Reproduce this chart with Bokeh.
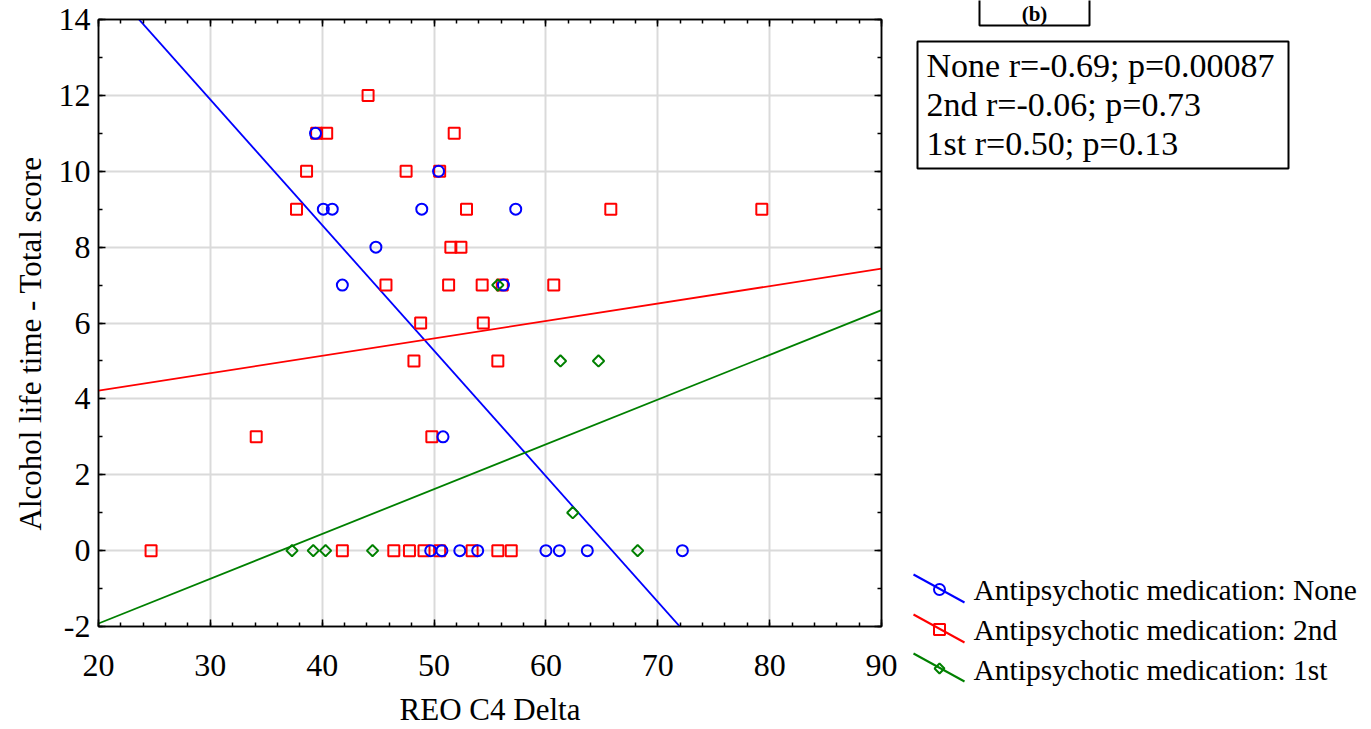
import numpy as np
from bokeh.plotting import figure
from bokeh.models import Range1d, LinearAxis, FixedTicker, Title
from bokeh.layouts import row
from bokeh.embed import file_html
from bokeh.resources import INLINE
from bokeh.core.properties import value

FONT = "Liberation Serif"

# ---------------- data ----------------
none_x = [39.4, 50.4, 40.1, 40.9, 48.9, 57.3, 44.8, 41.8, 56.2, 50.8,
          49.7, 50.7, 52.3, 53.9, 60.0, 61.2, 63.7, 72.2]
none_y = [11, 10, 9, 9, 9, 9, 8, 7, 7, 3,
          0, 0, 0, 0, 0, 0, 0, 0]

second_x = [44.1, 39.5, 40.4, 51.8, 38.6, 47.5, 50.5, 37.7, 52.9, 65.8, 79.3,
            51.5, 52.4, 45.7, 51.3, 54.3, 56.1, 60.7, 48.8, 54.4, 48.2, 55.7,
            34.1, 49.8, 24.7, 41.8, 46.4, 47.8, 49.1, 50.5, 53.4, 55.7, 56.9]
second_y = [12, 11, 11, 11, 10, 10, 10, 9, 9, 9, 9,
            8, 8, 7, 7, 7, 7, 7, 6, 6, 5, 5,
            3, 3, 0, 0, 0, 0, 0, 0, 0, 0, 0]

first_x = [55.7, 61.3, 64.7, 62.4, 37.3, 39.2, 40.3, 44.5, 68.2]
first_y = [7, 5, 5, 1, 0, 0, 0, 0, 0]

group_names = ["None", "2nd", "1st"]
group_colors = ["#0000ff", "#ff0000", "#008000"]
fit_slope = [-0.331, 0.0459, 0.118]
fit_intercept = [21.82, 3.30, -4.28]

stats_text = ["None r=-0.69; p=0.00087", "2nd r=-0.06; p=0.73", "1st r=0.50; p=0.13"]
legend_text = ["Antipsychotic medication: None",
               "Antipsychotic medication: 2nd",
               "Antipsychotic medication: 1st"]
panel_label = "(b)"
x_label = "REO C4 Delta"
y_label = "Alcohol life time - Total score"

x_ticks = [20, 30, 40, 50, 60, 70, 80, 90]
y_ticks = [-2, 0, 2, 4, 6, 8, 10, 12, 14]
x_minor = list(range(20, 91, 2))
y_minor = list(range(-2, 15, 1))

# ---------------- main plot ----------------
p = figure(width=900, height=729, x_range=Range1d(20, 90), y_range=Range1d(-2, 14),
           output_backend="svg", toolbar_location=None,
           min_border_left=98, min_border_right=19, min_border_top=19, min_border_bottom=103,
           x_axis_label=x_label)
p.frame_align = False
p.background_fill_color = "white"
p.border_fill_color = "white"
p.outline_line_color = "black"
p.outline_line_width = 1.5


def style_axis(ax, ticks, minor, labels=True):
    ax.ticker = FixedTicker(ticks=ticks, minor_ticks=minor)
    ax.axis_line_color = "black"
    ax.axis_line_width = 1.5
    ax.major_tick_in = 7
    ax.major_tick_out = 0
    ax.minor_tick_in = 4
    ax.minor_tick_out = 0
    ax.major_tick_line_color = "black"
    ax.minor_tick_line_color = "black"
    ax.major_tick_line_width = 1.5
    ax.minor_tick_line_width = 1.5
    ax.major_label_text_font = FONT
    ax.major_label_text_font_size = "32px"
    ax.major_label_text_color = "black"
    ax.axis_label_text_font = FONT
    ax.axis_label_text_font_size = "31px"
    ax.axis_label_text_font_style = "normal"
    ax.axis_label_text_color = "black"
    if labels:
        # plain hyphen-minus for negative ticks, as in the reference
        ax.major_label_overrides = {t: str(t) for t in ticks}
    else:
        ax.major_label_overrides = {t: "" for t in ticks}
        ax.major_label_standoff = 0


style_axis(p.xaxis[0], x_ticks, x_minor)
style_axis(p.yaxis[0], y_ticks, y_minor)
p.xaxis[0].major_label_standoff = 28
p.xaxis[0].axis_label_standoff = 13
p.yaxis[0].major_label_standoff = 8

# y-axis title, placed a little below the frame centre as in the reference
ytitle = Title(text=y_label, align="left", offset=96, standoff=15, text_font=FONT,
               text_font_size="31px", text_font_style="normal", text_color="black")
p.add_layout(ytitle, "left")

top_ax = LinearAxis()
style_axis(top_ax, x_ticks, x_minor, labels=False)
p.add_layout(top_ax, "above")
right_ax = LinearAxis()
style_axis(right_ax, y_ticks, y_minor, labels=False)
p.add_layout(right_ax, "right")

p.xgrid.ticker = FixedTicker(ticks=x_ticks)
p.ygrid.ticker = FixedTicker(ticks=y_ticks)
p.grid.grid_line_color = "#dadada"
p.grid.grid_line_width = 2

# regression lines
xs = np.array([20.0, 90.0])
for s, b, c in zip(fit_slope, fit_intercept, group_colors):
    p.line(xs, s * xs + b, line_color=c, line_width=1.8)

# points
p.scatter(second_x, second_y, marker="square", size=11, fill_color=None,
          line_color=group_colors[1], line_width=2)
p.scatter(none_x, none_y, marker="circle", size=11, fill_color=None,
          line_color=group_colors[0], line_width=2)
p.scatter(first_x, first_y, marker="square", angle=np.pi / 4, size=8, fill_color=None,
          line_color=group_colors[2], line_width=2)

# ---------------- right panel (stats box + legend) ----------------
q = figure(width=471, height=729, x_range=Range1d(900, 1371), y_range=Range1d(729, 0),
           output_backend="svg", toolbar_location=None, min_border=0,
           x_axis_type=None, y_axis_type=None)
q.frame_align = False
q.grid.visible = False
q.outline_line_color = None
q.background_fill_color = "white"
q.border_fill_color = "white"

# panel label box (cut off at the top)
q.quad(left=[979], right=[1089], top=[-5], bottom=[25], fill_color=None,
       line_color="black", line_width=2)
q.text(x=[1034], y=[13], text=[panel_label], text_align="center", text_baseline="middle",
       text_font=value(FONT), text_font_size="21px", text_font_style="bold", text_color="black")

# statistics box
q.quad(left=[917], right=[1288], top=[41], bottom=[168], fill_color="white",
       line_color="black", line_width=2)
q.text(x=[926] * 3, y=[65, 104, 143], text=stats_text, text_baseline="alphabetic",
       text_font=value(FONT), text_font_size="34px", text_color="black")

# legend
leg_y = [589, 629, 668]
q.segment(x0=[913] * 3, y0=[y - 15 for y in leg_y], x1=[964] * 3, y1=[y + 13 for y in leg_y],
          line_color=group_colors, line_width=2)
q.scatter([939], [leg_y[0]], marker="circle", size=11, fill_color=None,
          line_color=group_colors[0], line_width=2)
q.scatter([939], [leg_y[1]], marker="square", size=11, fill_color=None,
          line_color=group_colors[1], line_width=2)
q.scatter([939], [leg_y[2]], marker="square", angle=np.pi / 4, size=7, fill_color=None,
          line_color=group_colors[2], line_width=2)
q.text(x=[973] * 3, y=[589, 629, 669], text=legend_text, text_baseline="alphabetic",
       text_font=value(FONT), text_font_size="29.5px", text_color="black")

layout = row(p, q)
open("out.html", "w").write(file_html(layout, INLINE))
